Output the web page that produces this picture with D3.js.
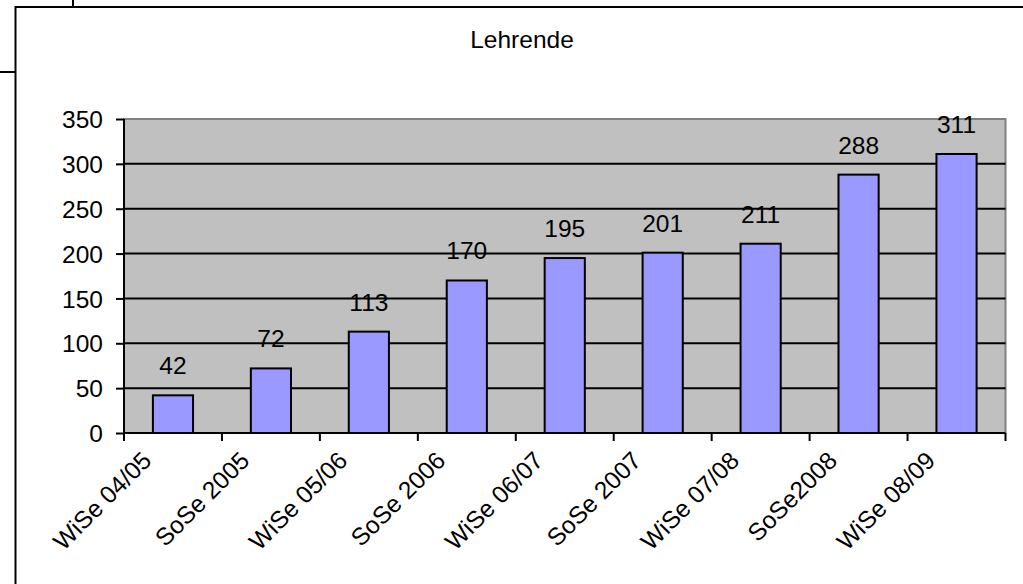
<!DOCTYPE html>
<html><head><meta charset="utf-8">
<script src="https://cdn.jsdelivr.net/npm/d3@7"></script>
<style>body{margin:0;background:#fff}svg{display:block}text{font-family:"Liberation Sans",Arial,sans-serif;fill:#000}</style>
</head><body><svg id="c" width="1023" height="584"></svg>
<script>
const categories = ["WiSe 04/05","SoSe 2005","WiSe 05/06","SoSe 2006","WiSe 06/07","SoSe 2007","WiSe 07/08","SoSe2008","WiSe 08/09"];
const values = [42,72,113,170,195,201,211,288,311];
const yTicks = [0,50,100,150,200,250,300,350];
const title = "Lehrende";

const FS = 24.5;
const svg = d3.select("#c");
const L = 124, R = 1005.5, T = 119, B = 433;

// frame remnants
svg.append("line").attr("x1",73).attr("y1",0).attr("x2",73).attr("y2",7).attr("stroke","#000").attr("stroke-width",2);
svg.append("line").attr("x1",0).attr("y1",72).attr("x2",15.5).attr("y2",72).attr("stroke","#000").attr("stroke-width",2);
svg.append("rect").attr("x",15.5).attr("y",7).attr("width",1030).attr("height",600).attr("fill","#fff").attr("stroke","#000").attr("stroke-width",2);

svg.append("text").attr("x",522).attr("y",48).attr("text-anchor","middle").attr("font-size",FS).text(title);

const x = d3.scaleBand().domain(categories).range([L,R]).paddingInner(0.59).paddingOuter(0.295);
const y = d3.scaleLinear().domain([0,350]).range([B,T]);

svg.append("rect").attr("x",L).attr("y",T).attr("width",R-L).attr("height",B-T).attr("fill","#C0C0C0").attr("stroke","#808080").attr("stroke-width",2);

// gridlines
svg.append("g").selectAll("line").data(yTicks.filter(d=>d>0&&d<350)).join("line")
  .attr("x1",L).attr("x2",R).attr("y1",d=>y(d)).attr("y2",d=>y(d)).attr("stroke","#000").attr("stroke-width",2);

// bars
svg.append("g").selectAll("rect").data(values).join("rect")
  .attr("x",(d,i)=>x(categories[i])).attr("width",x.bandwidth())
  .attr("y",d=>y(d)).attr("height",d=>B-y(d))
  .attr("fill","#9999FF").attr("stroke","#000").attr("stroke-width",2);

// value labels
svg.append("g").selectAll("text").data(values).join("text")
  .attr("x",(d,i)=>x(categories[i])+x.bandwidth()/2).attr("y",d=>y(d)-21)
  .attr("text-anchor","middle").attr("font-size",FS).text(d=>d);

// y axis
const yAxis = d3.axisLeft(y).tickValues(yTicks).tickSize(8).tickPadding(13).tickFormat(d3.format("d"));
const gy = svg.append("g").attr("transform",`translate(${L},0)`).call(yAxis);
gy.select(".domain").attr("stroke","#000").attr("stroke-width",2).attr("d",`M0,${T}V${B}`);
gy.selectAll(".tick line").attr("stroke","#000").attr("stroke-width",2);
gy.selectAll(".tick text").attr("font-size",FS).attr("font-family","Liberation Sans, Arial, sans-serif").attr("fill","#000").attr("dy","0.35em");

// x axis line and ticks at boundaries
const step = x.step();
const bounds = d3.range(categories.length+1).map(i=>L+i*step);
svg.append("line").attr("x1",L).attr("x2",R).attr("y1",B).attr("y2",B).attr("stroke","#000").attr("stroke-width",2);
svg.append("g").selectAll("line").data(bounds).join("line")
  .attr("x1",d=>d).attr("x2",d=>d).attr("y1",B).attr("y2",B+8).attr("stroke","#000").attr("stroke-width",2);

// x labels
svg.append("g").selectAll("text").data(categories).join("text")
  .attr("transform",d=>`translate(${x(d)+x.bandwidth()/2-20},${B+29}) rotate(-45)`)
  .attr("text-anchor","end").attr("font-size",FS).text(d=>d);
</script></body></html>
